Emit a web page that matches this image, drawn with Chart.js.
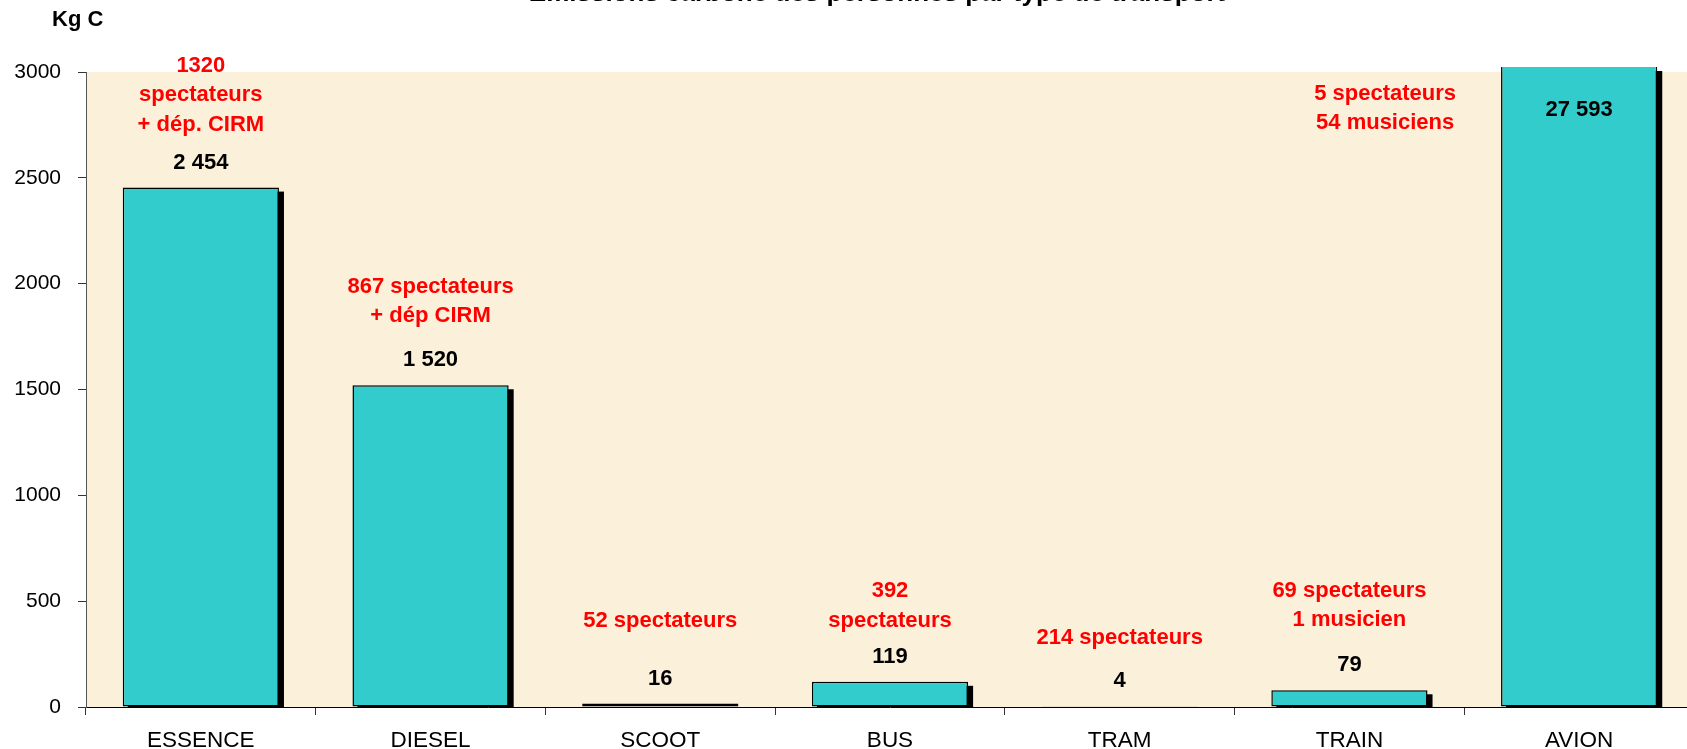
<!DOCTYPE html>
<html lang="fr">
<head>
<meta charset="UTF-8">
<title>Emissions par type de transport</title>
<script src="https://cdn.jsdelivr.net/npm/chart.js"></script>
<style>
    html, body { margin: 0; padding: 0; background: #ffffff; overflow: hidden; }
    #wrap { width: 1694px; height: 749px; position: relative; }
</style>
</head>
<body>
<div id="wrap"><canvas id="chart"></canvas></div>
<script>
    // Categories and values (kg C)
    const categories = ['ESSENCE', 'DIESEL', 'SCOOT', 'BUS', 'TRAM', 'TRAIN', 'AVION'];
    const emissions = [2454, 1520, 16, 119, 4, 79, 27593];
    const valueLabels = ['2 454', '1 520', '16', '119', '4', '79', '27 593'];
    const notes = [
        ['1320', 'spectateurs', '+ dép. CIRM'],
        ['867 spectateurs', '+ dép CIRM'],
        ['52 spectateurs'],
        ['392', 'spectateurs'],
        ['214 spectateurs'],
        ['69 spectateurs', '1 musicien'],
        ['5 spectateurs', '54 musiciens']
    ];
    const yTicks = [0, 500, 1000, 1500, 2000, 2500, 3000];
    const titleText = 'Emissions carbone des personnes par type de transport';
    const unitText = 'Kg C';

    const FONT = '"Liberation Sans", Arial, sans-serif';

    // gap between the value label and the last line of the red note
    const noteGap = [38, 44, 58, 36, 43, 45];

    // cream plot background + title / unit
    const backgroundPlugin = {
        id: 'background',
        beforeDraw(chart) {
            const { ctx, chartArea } = chart;
            ctx.save();
            ctx.fillStyle = '#fbf0d9';
            ctx.fillRect(chartArea.left, chartArea.top, chartArea.right - chartArea.left, chartArea.bottom - chartArea.top);
            ctx.fillStyle = '#000';
            ctx.font = 'bold 26px ' + FONT;
            ctx.textAlign = 'center';
            ctx.textBaseline = 'alphabetic';
            ctx.fillText(titleText, 877, 0.5);
            ctx.font = 'bold 22px ' + FONT;
            ctx.textAlign = 'left';
            ctx.textBaseline = 'middle';
            ctx.fillText(unitText, 52, 20);
            ctx.restore();
        }
    };

    // black drop shadow behind the bars (offset right and down)
    const shadowPlugin = {
        id: 'barShadow',
        beforeDatasetsDraw(chart) {
            const { ctx, chartArea } = chart;
            const meta = chart.getDatasetMeta(0);
            ctx.save();
            ctx.beginPath();
            ctx.rect(chartArea.left, chartArea.top - 5, chartArea.right - chartArea.left, chartArea.bottom - chartArea.top + 5);
            ctx.clip();
            ctx.fillStyle = '#000';
            meta.data.forEach(bar => {
                const p = bar.getProps(['x', 'y', 'base', 'width'], true);
                const top = Math.max(p.y, chartArea.top - 5);
                ctx.fillRect(p.x - p.width / 2 + 5, top + 4, p.width, p.base - top);
            });
            ctx.restore();
        }
    };

    // value labels (black) and notes (red)
    const labelPlugin = {
        id: 'labels',
        afterDraw(chart) {
            const { ctx, chartArea } = chart;
            const meta = chart.getDatasetMeta(0);
            ctx.save();
            ctx.font = 'bold 22px ' + FONT;
            ctx.textAlign = 'center';
            ctx.textBaseline = 'middle';
            meta.data.forEach((bar, i) => {
                let vy, noteBottom, nx = bar.x;
                if (bar.y < chartArea.top) {
                    // bar goes past the top of the axis: label inside
                    vy = chartArea.top + 38;
                    noteBottom = chartArea.top + 51;
                    nx = bar.x - 194;
                } else {
                    vy = bar.y - 25;
                    noteBottom = vy - noteGap[i];
                }
                ctx.fillStyle = '#000';
                ctx.fillText(valueLabels[i], bar.x, vy);
                ctx.fillStyle = '#ff0000';
                const lines = notes[i];
                lines.forEach((line, k) => {
                    ctx.fillText(line, nx, noteBottom - (lines.length - 1 - k) * 29.5);
                });
            });
            ctx.restore();
        }
    };

    new Chart(document.getElementById('chart'), {
        type: 'bar',
        data: {
            labels: categories,
            datasets: [{
                data: emissions,
                backgroundColor: '#33cccc',
                borderColor: '#000',
                borderWidth: 1.5,
                borderSkipped: false,
                barPercentage: 0.68,
                categoryPercentage: 1,
                clip: { left: 10, top: 5, right: 10, bottom: 0 }
            }]
        },
        options: {
            responsive: true,
            maintainAspectRatio: false,
            animation: false,
            layout: { padding: { top: 72, left: 0, right: 0, bottom: 0 } },
            plugins: {
                legend: { display: false },
                tooltip: { enabled: false }
            },
            scales: {
                x: {
                    afterFit(scale) { scale.height = 42; },
                    grid: { display: true, drawOnChartArea: false, drawTicks: true, tickLength: 8, color: '#333', offset: true },
                    border: { display: true, color: '#000', width: 1 },
                    ticks: { color: '#000', font: { family: FONT, size: 22.5 }, padding: 12, maxRotation: 0 }
                },
                y: {
                    min: 0,
                    max: 3000,
                    afterFit(scale) { scale.width = 86; },
                    afterBuildTicks(scale) { scale.ticks = yTicks.map(v => ({ value: v })); },
                    grid: { display: true, drawOnChartArea: false, drawTicks: true, tickLength: 8, color: '#333' },
                    border: { display: true, color: '#555', width: 1 },
                    ticks: {
                        color: '#000',
                        font: { family: FONT, size: 21 },
                        padding: 17,
                        callback: v => String(v)
                    }
                }
            }
        },
        plugins: [backgroundPlugin, shadowPlugin, labelPlugin]
    });
</script>
</body>
</html>
